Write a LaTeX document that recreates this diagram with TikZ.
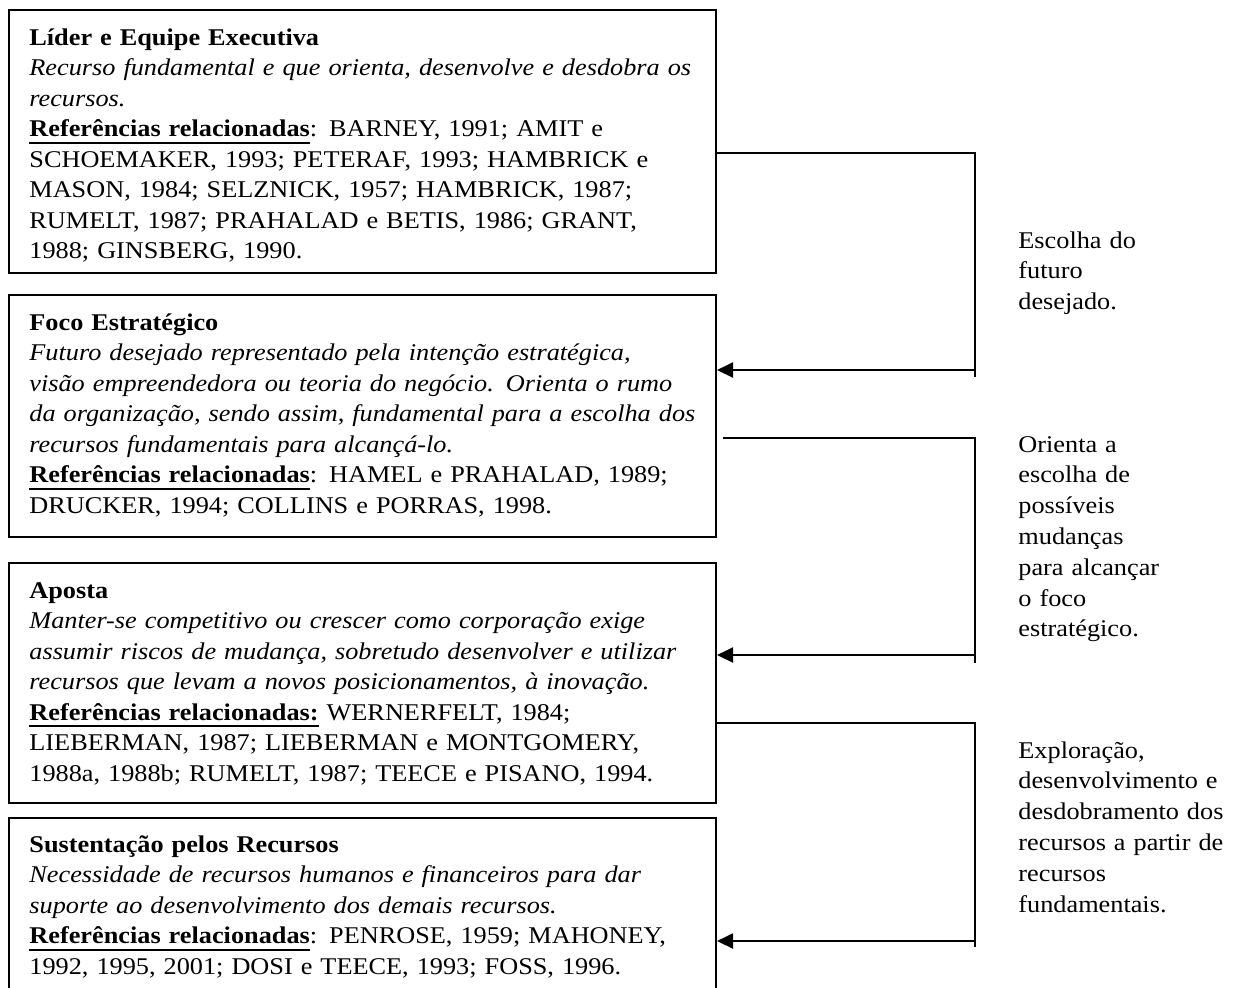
\documentclass[tikz,border=0pt]{standalone}
\usepackage{fontspec}
\setmainfont{Liberation Serif}[FakeStretch=1.095]
\usetikzlibrary{arrows.meta,fit}
\newsavebox\ulbox
\newcommand\ulbf[1]{\leavevmode\sbox\ulbox{\bfseries #1}\rlap{\rule[-3.5pt]{\wd\ulbox}{1pt}}\usebox\ulbox}
\tikzset{
  box/.style={draw=black, line width=1pt, inner sep=0pt, rectangle},
  txt/.style={anchor=base west, inner sep=0pt, text width=345pt, align=left,
    font=\fontsize{12}{15.25}\selectfont},
  lab/.style={anchor=base west, inner sep=0pt, text width=120pt, align=left,
    font=\fontsize{12}{15.4}\selectfont},
  conn/.style={draw=black, line width=1pt},
  arr/.style={draw=black, line width=1pt, -{Triangle[length=8pt,width=7.5pt]}},
}
\begin{document}
\begin{tikzpicture}[x=0.5pt, y=-0.5pt]
\useasboundingbox (0,0) rectangle (1240,987);
\clip (0,0) rectangle (1240,987);
\fill[white] (0,0) rectangle (1240,987);

% boxes
\node[box, fit={(9,10) (716,273)}] (b1) {};
\node[box, fit={(9,295) (716,537)}] (b2) {};
\node[box, fit={(9,563) (716,803)}] (b3) {};
\node[box, fit={(9,818) (716,990)}] (b4) {};

% box texts
\node[txt] (t1) at (29,45) {\textbf{Líder e Equipe Executiva}\\
\textit{Recurso fundamental e que orienta, desenvolve e desdobra os}\\
\textit{recursos.}\\
\ulbf{Referências relacionadas}: BARNEY, 1991; AMIT e\\
SCHOEMAKER, 1993; PETERAF, 1993; HAMBRICK e\\
MASON, 1984; SELZNICK, 1957; HAMBRICK, 1987;\\
RUMELT, 1987; PRAHALAD e BETIS, 1986; GRANT,\\
1988; GINSBERG, 1990.};

\node[txt] (t2) at (29,330) {\textbf{Foco Estratégico}\\
\textit{Futuro desejado representado pela intenção estratégica,}\\
\textit{visão empreendedora ou teoria do negócio. Orienta o rumo}\\
\textit{da organização, sendo assim, fundamental para a escolha dos}\\
\textit{recursos fundamentais para alcançá-lo.}\\
\ulbf{Referências relacionadas}: HAMEL e PRAHALAD, 1989;\\
DRUCKER, 1994; COLLINS e PORRAS, 1998.};

\node[txt] (t3) at (29,598) {\textbf{Aposta}\\
\textit{Manter-se competitivo ou crescer como corporação exige}\\
\textit{assumir riscos de mudança, sobretudo desenvolver e utilizar}\\
\textit{recursos que levam a novos posicionamentos, à inovação.}\\
\ulbf{Referências relacionadas:} WERNERFELT, 1984;\\
LIEBERMAN, 1987; LIEBERMAN e MONTGOMERY,\\
1988a, 1988b; RUMELT, 1987; TEECE e PISANO, 1994.};

\node[txt] (t4) at (29,852) {\textbf{Sustentação pelos Recursos}\\
\textit{Necessidade de recursos humanos e financeiros para dar}\\
\textit{suporte ao desenvolvimento dos demais recursos.}\\
\ulbf{Referências relacionadas}: PENROSE, 1959; MAHONEY,\\
1992, 1995, 2001; DOSI e TEECE, 1993; FOSS, 1996.};

% right labels
\node[lab] (l1) at (1018,248) {Escolha do\\futuro\\desejado.};
\node[lab] (l2) at (1018,452) {Orienta a\\escolha de\\possíveis\\mudanças\\para alcançar\\o foco\\estratégico.};
\node[lab] (l3) at (1018,758) {Exploração,\\desenvolvimento e\\desdobramento dos\\recursos a partir de\\recursos\\fundamentais.};

% connector 1
\coordinate (k1) at (975,153);
\coordinate (e1) at (975,377);
\coordinate (a1) at (975,370);
\draw[conn] (b1.east |- k1) -- (k1) -- (e1);
\draw[arr] (a1) -- (a1 -| b2.east);

% connector 2
\coordinate (s2) at (723,438);
\coordinate (k2) at (975,438);
\coordinate (e2) at (975,663);
\coordinate (a2) at (975,655);
\draw[conn] (s2) -- (k2) -- (e2);
\draw[arr] (a2) -- (a2 -| b3.east);

% connector 3
\coordinate (k3) at (975,723);
\coordinate (e3) at (975,947);
\coordinate (a3) at (975,941);
\draw[conn] (b3.east |- k3) -- (k3) -- (e3);
\draw[arr] (a3) -- (a3 -| b4.east);
\end{tikzpicture}
\end{document}
